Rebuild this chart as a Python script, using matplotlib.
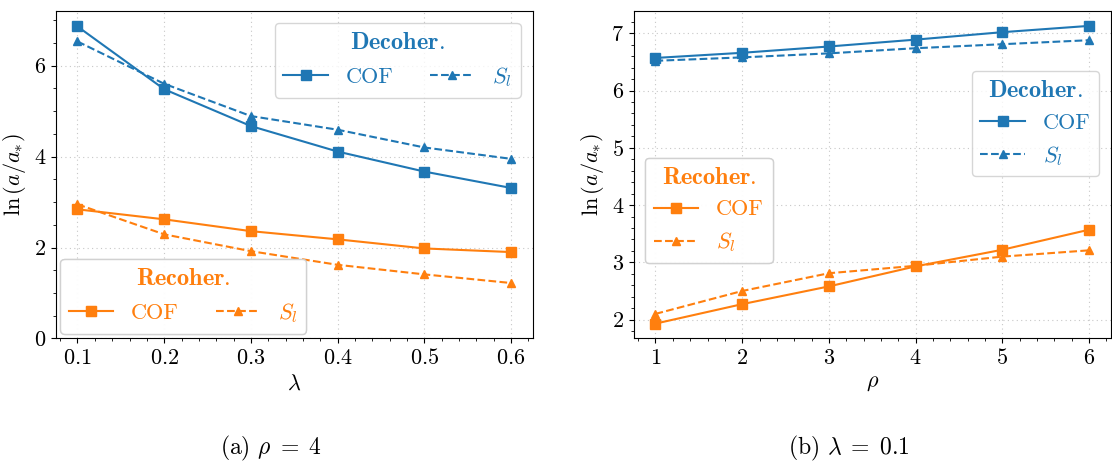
import matplotlib
matplotlib.use("Agg")
import matplotlib.pyplot as plt
from matplotlib.ticker import MultipleLocator, AutoMinorLocator

plt.rcParams['font.family'] = 'serif'
plt.rcParams['font.serif'] = ['cmr10']
plt.rcParams['mathtext.fontset'] = 'cm'
plt.rcParams['axes.formatter.use_mathtext'] = True
plt.rcParams['font.size'] = 16

# (a) rho = 4, varying lambda
lam = [0.1, 0.2, 0.3, 0.4, 0.5, 0.6]
dec_cof_a = [6.86, 5.48, 4.67, 4.11, 3.67, 3.31]
dec_sl_a = [6.53, 5.60, 4.89, 4.59, 4.20, 3.95]
rec_cof_a = [2.84, 2.62, 2.36, 2.18, 1.98, 1.90]
rec_sl_a = [2.95, 2.29, 1.92, 1.62, 1.41, 1.22]

# (b) lambda = 0.1, varying rho
rho = [1, 2, 3, 4, 5, 6]
dec_cof_b = [6.57, 6.66, 6.77, 6.89, 7.02, 7.13]
dec_sl_b = [6.52, 6.58, 6.65, 6.74, 6.81, 6.88]
rec_cof_b = [1.93, 2.27, 2.58, 2.93, 3.22, 3.57]
rec_sl_b = [2.10, 2.50, 2.81, 2.94, 3.10, 3.21]

blue = '#1f77b4'
orange = '#ff7f0e'

fig = plt.figure(figsize=(11.12, 4.61), dpi=100)
W, H = 1112, 461
ax1 = fig.add_axes([55.8/W, 1 - 338.5/H, (532.7-55.8)/W, (338.5-11)/H])
ax2 = fig.add_axes([633.8/W, 1 - 338.5/H, (1110.7-633.8)/W, (338.5-11)/H])


def draw(ax, x, dc, ds, rc, rs):
    l1, = ax.plot(x, dc, '-s', color=blue, lw=1.5, ms=7, label='COF')
    l2, = ax.plot(x, ds, '--^', color=blue, lw=1.5, ms=6, label='$S_l$')
    l3, = ax.plot(x, rc, '-s', color=orange, lw=1.5, ms=7, label='COF')
    l4, = ax.plot(x, rs, '--^', color=orange, lw=1.5, ms=6, label='$S_l$')
    ax.grid(True, which='major', linestyle=(0, (1, 3)), color='0.78', lw=0.8)
    ax.xaxis.set_minor_locator(AutoMinorLocator())
    ax.yaxis.set_minor_locator(AutoMinorLocator())
    ax.set_ylabel(r'$\ln\left(a/a_{*}\right)$')
    return [l1, l2], [l3, l4]


def legend(ax, handles, title, color, ncol, loc, anchor):
    leg = ax.legend(handles=handles, title=title, ncol=ncol, loc=loc,
                    bbox_to_anchor=anchor, borderaxespad=0, labelcolor='linecolor',
                    columnspacing=1.65, title_fontsize=17.5)
    leg.get_title().set_color(color)
    ax.add_artist(leg)


dh, rh = draw(ax1, lam, dec_cof_a, dec_sl_a, rec_cof_a, rec_sl_a)
ax1.set_xlabel(r'$\lambda$')
ax1.set_ylim(0, 7.2)
ax1.yaxis.set_major_locator(MultipleLocator(2))
ax1.xaxis.set_major_locator(MultipleLocator(0.1))
legend(ax1, dh, r'$\mathbf{Decoher}$.', blue, 2, 'upper right', (0.975, 0.964))
legend(ax1, rh, r'$\mathbf{Recoher}$.', orange, 2, 'lower left', (0.009, 0.015))

dh, rh = draw(ax2, rho, dec_cof_b, dec_sl_b, rec_cof_b, rec_sl_b)
ax2.set_xlabel(r'$\rho$')
ax2.yaxis.set_major_locator(MultipleLocator(1))
legend(ax2, dh, r'$\mathbf{Decoher}$.', blue, 1, 'upper right', (0.976, 0.817))
legend(ax2, rh, r'$\mathbf{Recoher}$.', orange, 1, 'upper left', (0.0236, 0.552))

fig.text(271/W, 1 - 448/H, r'(a) $\rho\;=\;4$', ha='center', va='center', fontsize=17)
fig.text(849/W, 1 - 448/H, r'(b) $\lambda\;=\;0.1$', ha='center', va='center', fontsize=17)

fig.savefig('out.png', dpi=100)
